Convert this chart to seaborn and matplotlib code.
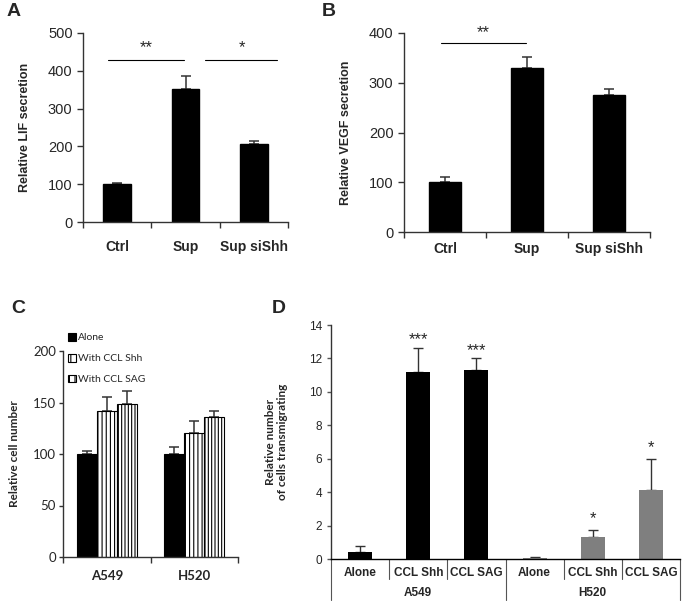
import matplotlib
matplotlib.use("Agg")
import matplotlib.pyplot as plt
import matplotlib.transforms as mtransforms
from matplotlib.patches import Patch
import seaborn as sns
import pandas as pd
import numpy as np

sns.set_style("white")
plt.rcParams["font.family"] = ["Liberation Sans", "DejaVu Sans"]
plt.rcParams["hatch.linewidth"] = 0.8
plt.rcParams["hatch.color"] = "black"

# ---- data -------------------------------------------------------------
a_cats = ["Ctrl", "Sup", "Sup siShh"]
a_vals = [100, 352, 207]
a_err = [3, 35, 8]

b_cats = ["Ctrl", "Sup", "Sup siShh"]
b_vals = [100, 329, 276]
b_err = [10, 22, 11]

c_lines = ["A549", "H520"]
c_conds = ["Alone", "With CCL Shh", "With CCL SAG"]
c_vals = {"Alone": [100, 100], "With CCL Shh": [142, 120], "With CCL SAG": [149, 136]}
c_err = {"Alone": [3, 7], "With CCL Shh": [13, 12], "With CCL SAG": [12, 6]}

d_lines = ["A549", "H520"]
d_conds = ["Alone", "CCL Shh", "CCL SAG"]
d_vals = {"A549": [0.4, 11.2, 11.3], "H520": [0.03, 1.3, 4.15]}
d_err = {"A549": [0.35, 1.45, 0.7], "H520": [0.07, 0.45, 1.85]}
d_stars = {"A549": ["", "***", "***"], "H520": ["", "*", "*"]}

W, H = 686, 604
fig = plt.figure(figsize=(W / 100, H / 100), dpi=100)


def add_ax(x0, y_top, x1, y_bot):
    return fig.add_axes([x0 / W, 1 - y_bot / H, (x1 - x0) / W, (y_bot - y_top) / H])


def style_ax(ax):
    for s in ["top", "right"]:
        ax.spines[s].set_visible(False)
    for s in ["left", "bottom"]:
        ax.spines[s].set_color("#333333")
        ax.spines[s].set_linewidth(1.0)
    ax.tick_params(axis="y", direction="out", length=4, width=1, color="#333333", left=True)


def upper_err(ax, bars, errs, lw=1.1):
    for bar, e in zip(bars, errs):
        x = bar.get_x() + bar.get_width() / 2
        y = bar.get_height()
        ax.errorbar(x, y, yerr=[[0], [e]], fmt="none", ecolor="#333333",
                    elinewidth=lw, capsize=3.5, capthick=lw, zorder=1)


def boundary_ticks(ax, n, pad):
    ax.set_xticks(np.arange(n))
    ax.tick_params(axis="x", which="major", length=0, pad=pad)
    ax.set_xticks(np.arange(n + 1) - 0.5, minor=True)
    ax.tick_params(axis="x", which="minor", direction="out", length=4, width=1,
                   color="#333333", bottom=True)


# ---- panel A ----------------------------------------------------------
ax = add_ax(83, 33, 288, 222)
sns.barplot(x=a_cats, y=a_vals, color="black", width=0.4, ax=ax, saturation=1,
            edgecolor="black", zorder=2)
upper_err(ax, ax.patches, a_err)
ax.set_xlim(-0.5, 2.5)
ax.set_ylim(0, 500)
ax.set_yticks(range(0, 501, 100))
style_ax(ax)
boundary_ticks(ax, 3, pad=13)
ax.set_xticklabels(a_cats, fontsize=10, fontweight="bold")
ax.tick_params(axis="y", labelsize=10.5)
ax.set_ylabel("Relative LIF secretion", fontsize=9, fontweight="bold", labelpad=12)
ax.plot([-0.13, 0.98], [428, 428], color="black", lw=0.8, clip_on=False)
ax.plot([1.29, 2.34], [428, 428], color="black", lw=0.8, clip_on=False)
ax.text(0.43, 460, "**", ha="center", va="center", fontsize=12, clip_on=False)
ax.text(1.82, 460, "*", ha="center", va="center", fontsize=12, clip_on=False)
fig.text(14 / W, 1 - 12 / H, "A", fontsize=14, fontweight="bold", va="center", ha="center")

# ---- panel B ----------------------------------------------------------
ax = add_ax(404, 33, 650, 232)
sns.barplot(x=b_cats, y=b_vals, color="black", width=0.4, ax=ax, saturation=1,
            edgecolor="black", zorder=2)
upper_err(ax, ax.patches, b_err)
ax.set_xlim(-0.5, 2.5)
ax.set_ylim(0, 400)
ax.set_yticks(range(0, 401, 100))
style_ax(ax)
boundary_ticks(ax, 3, pad=7)
ax.set_xticklabels(b_cats, fontsize=10, fontweight="bold")
ax.tick_params(axis="y", labelsize=10.5)
ax.set_ylabel("Relative VEGF secretion", fontsize=9, fontweight="bold", labelpad=12)
ax.plot([-0.05, 0.99], [380, 380], color="black", lw=0.8, clip_on=False)
ax.text(0.47, 400, "**", ha="center", va="center", fontsize=12, clip_on=False)
fig.text(329 / W, 1 - 12 / H, "B", fontsize=14, fontweight="bold", va="center", ha="center")

# ---- panel C ----------------------------------------------------------
calibri = ["Lato", "DejaVu Sans"]
ax = add_ax(63, 351, 238, 557)
df_c = pd.DataFrame([(ln, cd, c_vals[cd][i]) for cd in c_conds for i, ln in enumerate(c_lines)],
                    columns=["line", "cond", "val"])
sns.barplot(data=df_c, x="line", y="val", hue="cond", order=c_lines, hue_order=c_conds,
            palette=["black", "white", "white"], saturation=1, width=0.686,
            edgecolor="black", linewidth=0.8, ax=ax, legend=False, zorder=2)
hatches = ["", "||||", "|||||"]
for cont, cd, h in zip(ax.containers, c_conds, hatches):
    for bar in cont:
        bar.set_hatch(h)
    upper_err(ax, cont, c_err[cd])
ax.set_xlim(-0.5, 1.5)
ax.set_ylim(0, 200)
ax.set_yticks(range(0, 201, 50))
style_ax(ax)
ax.tick_params(axis="y", length=3, pad=2, labelsize=9.5)
boundary_ticks(ax, 2, pad=9)
ax.set_xticklabels(c_lines, fontsize=9.5, fontweight="bold", family=calibri)
for t in ax.get_yticklabels():
    t.set_family(calibri)
ax.set_xlabel("")
ax.set_ylabel("Relative cell number", fontsize=8.5, fontweight="bold", family=calibri, labelpad=9)
handles = [Patch(facecolor=fc, edgecolor="black", hatch=h, linewidth=0.8)
           for fc, h in zip(["black", "white", "white"], ["", "||", "|||"])]
leg = fig.legend(handles, c_conds, loc="upper left", bbox_to_anchor=(68 / W, 1 - 333 / H),
                 frameon=False, prop={"family": calibri, "size": 7.5},
                 handlelength=0.75, handleheight=0.75, handletextpad=0.2, labelspacing=1.1,
                 borderaxespad=0, borderpad=0)
fig.text(18 / W, 1 - 308 / H, "C", fontsize=14, fontweight="bold", va="center", ha="center")

# ---- panel D ----------------------------------------------------------
ax = add_ax(331, 325, 680, 559)
keys = [f"{ln} {cd}" for ln in d_lines for cd in d_conds]
df_d = pd.DataFrame({"key": keys,
                     "line": [ln for ln in d_lines for _ in d_conds],
                     "val": [v for ln in d_lines for v in d_vals[ln]],
                     "err": [e for ln in d_lines for e in d_err[ln]],
                     "star": [s for ln in d_lines for s in d_stars[ln]]})
sns.barplot(data=df_d, x="key", y="val", hue="line", order=keys, hue_order=d_lines,
            palette=["black", "#7f7f7f"], saturation=1, width=0.41, dodge=False,
            edgecolor="none", ax=ax, legend=False, zorder=2)
bars = sorted([p for p in ax.patches if p.get_height() > 0], key=lambda p: p.get_x())
upper_err(ax, bars, df_d["err"], lw=1.0)
for bar, e, s in zip(bars, df_d["err"], df_d["star"]):
    if s:
        x = bar.get_x() + bar.get_width() / 2
        off = 0.45 if len(s) > 1 else 0.65
        ax.text(x, bar.get_height() + e + off, s, ha="center", va="center", fontsize=12)
ax.set_xlim(-0.5, 5.5)
ax.set_ylim(0, 14)
ax.set_yticks(range(0, 15, 2))
style_ax(ax)
ax.spines["bottom"].set_color("black")
ax.tick_params(axis="y", labelsize=8.5, length=3, color="#555555")
ax.set_xticks([])
ax.set_xlabel("")
ax.set_ylabel("Relative number\nof cells transmigrating", fontsize=8.5, fontweight="bold",
              family=calibri, labelpad=15, linespacing=1.1)
trans = mtransforms.blended_transform_factory(ax.transData, ax.transAxes)
px = 1 / 234  # axes fraction per pixel vertically
for i, k in enumerate(keys):
    ax.text(i, -14 * px, d_conds[i % 3], transform=trans, ha="center", va="center",
            fontsize=8.5, fontweight="bold")
for xb in [0.5, 1.5, 3.5, 4.5]:
    ax.plot([xb, xb], [0, -20 * px], transform=trans, color="#555555", lw=0.8, clip_on=False)
for xb in [-0.5, 2.5, 5.5]:
    ax.plot([xb, xb], [0, -41 * px], transform=trans, color="#555555", lw=0.8, clip_on=False)
for j, ln in enumerate(d_lines):
    ax.text(1 + 3 * j, -34 * px, ln, transform=trans, ha="center", va="center",
            fontsize=8.5, fontweight="bold")
fig.text(279 / W, 1 - 308 / H, "D", fontsize=14, fontweight="bold", va="center", ha="center")

fig.savefig("out.png", dpi=100)
